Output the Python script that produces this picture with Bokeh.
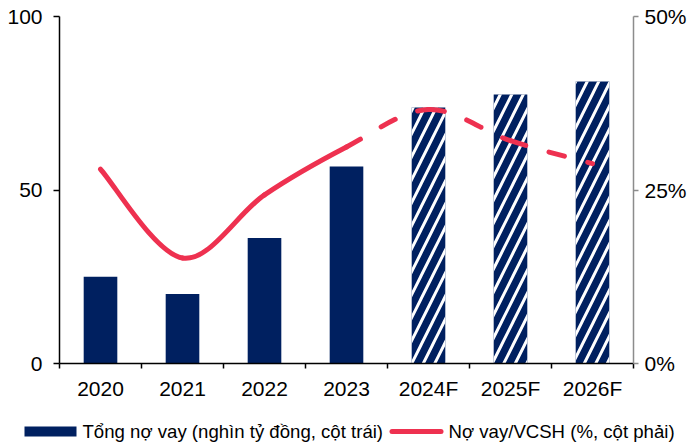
from bokeh.plotting import figure
from bokeh.layouts import column
from bokeh.models import (Range1d, LinearAxis, FixedTicker, ColumnDataSource,
                          PrintfTickFormatter)
from bokeh.core.properties import value
from bokeh.embed import file_html
from bokeh.resources import INLINE

# ---- data -------------------------------------------------------------
years = ["2020", "2021", "2022", "2023", "2024F", "2025F", "2026F"]
total_debt = [25.0, 20.0, 36.2, 56.8, 73.8, 77.5, 81.3]          # nghìn tỷ đồng
debt_to_equity = [28.0, 15.2, 24.3, 31.2, 36.6, 32.1, 28.8]      # %
n_actual = 4                                                      # 2020-2023 are actuals
left_ticks = [0, 50, 100]
right_ticks = [0, 25, 50]

bar_label = "Tổng nợ vay (nghìn tỷ đồng, cột trái)"
line_label = "Nợ vay/VCSH (%, cột phải)"

# ---- style ------------------------------------------------------------
NAVY = "#002060"
RED = "#EE3150"
FONT = "Liberation Sans"
W = 689
CHART_H = 404
LEGEND_H = 42

xs = list(range(len(years)))

p = figure(width=W, height=CHART_H, output_backend="svg", toolbar_location=None,
           x_range=Range1d(-0.5, len(years) - 0.5), y_range=Range1d(0, 100),
           min_border_left=59, min_border_right=52, min_border_top=16,
           min_border_bottom=41, frame_align=False)
p.extra_y_ranges = {"pct": Range1d(0, 50)}
p.outline_line_color = None
p.xgrid.grid_line_color = None
p.ygrid.grid_line_color = None
p.background_fill_color = "white"
p.border_fill_color = "white"

# ---- bars ---------------------------------------------------------------
actual_src = ColumnDataSource(dict(x=xs[:n_actual], top=total_debt[:n_actual]))
fcst_src = ColumnDataSource(dict(x=xs[n_actual:], top=total_debt[n_actual:]))

p.vbar(x="x", top="top", width=0.41, source=actual_src,
       fill_color=NAVY, line_color=None)
p.vbar(x="x", top="top", width=0.41, source=fcst_src,
       fill_color=NAVY, line_color=None,
       hatch_pattern="/", hatch_color="white", hatch_weight=3, hatch_scale=23)

# ---- smoothed ratio line (cubic Bezier segments through the points) ---------
def bezier_segments(xv, yv, start, stop):
    n = len(xv)
    seg = dict(x0=[], y0=[], x1=[], y1=[], cx0=[], cy0=[], cx1=[], cy1=[])
    for i in range(start, stop):
        prev = max(i - 1, 0)
        nxt = min(i + 2, n - 1)
        seg["x0"].append(xv[i]); seg["y0"].append(yv[i])
        seg["x1"].append(xv[i + 1]); seg["y1"].append(yv[i + 1])
        seg["cx0"].append(xv[i] + (xv[i + 1] - xv[prev]) / 6.0)
        seg["cy0"].append(yv[i] + (yv[i + 1] - yv[prev]) / 6.0)
        seg["cx1"].append(xv[i + 1] - (xv[nxt] - xv[i]) / 6.0)
        seg["cy1"].append(yv[i + 1] - (yv[nxt] - yv[i]) / 6.0)
    return ColumnDataSource(seg)

solid_src = bezier_segments(xs, debt_to_equity, 0, n_actual - 1)
dash_src = bezier_segments(xs, debt_to_equity, n_actual - 1, len(xs) - 1)

p.bezier(x0="x0", y0="y0", x1="x1", y1="y1", cx0="cx0", cy0="cy0",
         cx1="cx1", cy1="cy1", source=solid_src, y_range_name="pct",
         line_color=RED, line_width=5, line_cap="round")
p.bezier(x0="x0", y0="y0", x1="x1", y1="y1", cx0="cx0", cy0="cy0",
         cx1="cx1", cy1="cy1", source=dash_src, y_range_name="pct",
         line_color=RED, line_width=5, line_cap="round", line_dash="16 24")

# ---- axes -----------------------------------------------------------------
ya = p.yaxis[0]
ya.ticker = FixedTicker(ticks=left_ticks)
ya.axis_line_color = "black"
ya.axis_line_width = 1.5
ya.major_tick_line_color = "black"
ya.major_tick_line_width = 1.5
ya.major_tick_in = 0
ya.major_tick_out = 6
ya.minor_tick_line_color = None
ya.major_label_standoff = 11
ya.major_label_text_font = FONT
ya.major_label_text_font_size = "21px"
ya.major_label_text_color = "black"

ra = LinearAxis(y_range_name="pct", ticker=FixedTicker(ticks=right_ticks),
                formatter=PrintfTickFormatter(format="%d%%"))
ra.axis_line_color = "#8c8c8c"
ra.axis_line_width = 1.5
ra.major_tick_line_color = "#8c8c8c"
ra.major_tick_line_width = 1.5
ra.major_tick_in = 0
ra.major_tick_out = 5
ra.minor_tick_line_color = None
ra.major_label_standoff = 6
ra.major_label_text_font = FONT
ra.major_label_text_font_size = "21px"
ra.major_label_text_color = "black"
p.add_layout(ra, "right")

xa = p.xaxis[0]
xa.ticker = FixedTicker(ticks=xs, minor_ticks=[i - 0.5 for i in range(len(xs) + 1)])
xa.major_label_overrides = {i: y for i, y in enumerate(years)}
xa.axis_line_color = "black"
xa.axis_line_width = 1.5
xa.major_tick_line_color = None
xa.minor_tick_line_color = "black"
xa.minor_tick_line_width = 1.5
xa.minor_tick_in = 0
xa.minor_tick_out = 5
xa.major_tick_in = 0
xa.major_tick_out = 5
xa.major_label_standoff = 8
xa.major_label_text_font = FONT
xa.major_label_text_font_size = "21px"
xa.major_label_text_color = "black"

# ---- legend strip (pixel coordinates) -------------------------------------
leg = figure(width=W, height=LEGEND_H, output_backend="svg", toolbar_location=None,
             x_range=Range1d(0, W), y_range=Range1d(0, LEGEND_H),
             min_border=0, x_axis_type=None, y_axis_type=None, frame_align=False)
leg.outline_line_color = None
leg.xgrid.grid_line_color = None
leg.ygrid.grid_line_color = None
leg.background_fill_color = "white"
leg.border_fill_color = "white"

mid = LEGEND_H - 27
leg.quad(left=[24], right=[76], bottom=[mid - 5], top=[mid + 5],
         fill_color=NAVY, line_color=None)
leg.line(x=[391.5, 440.5], y=[mid, mid], line_color=RED, line_width=5,
         line_cap="round")
leg.text(x=[82, 448], y=[mid, mid], text=[bar_label, line_label],
         text_font=value(FONT), text_font_size="18.6px", text_color="black",
         text_baseline="middle", text_align="left")

open("out.html", "w").write(file_html(column(p, leg, spacing=0), INLINE))
